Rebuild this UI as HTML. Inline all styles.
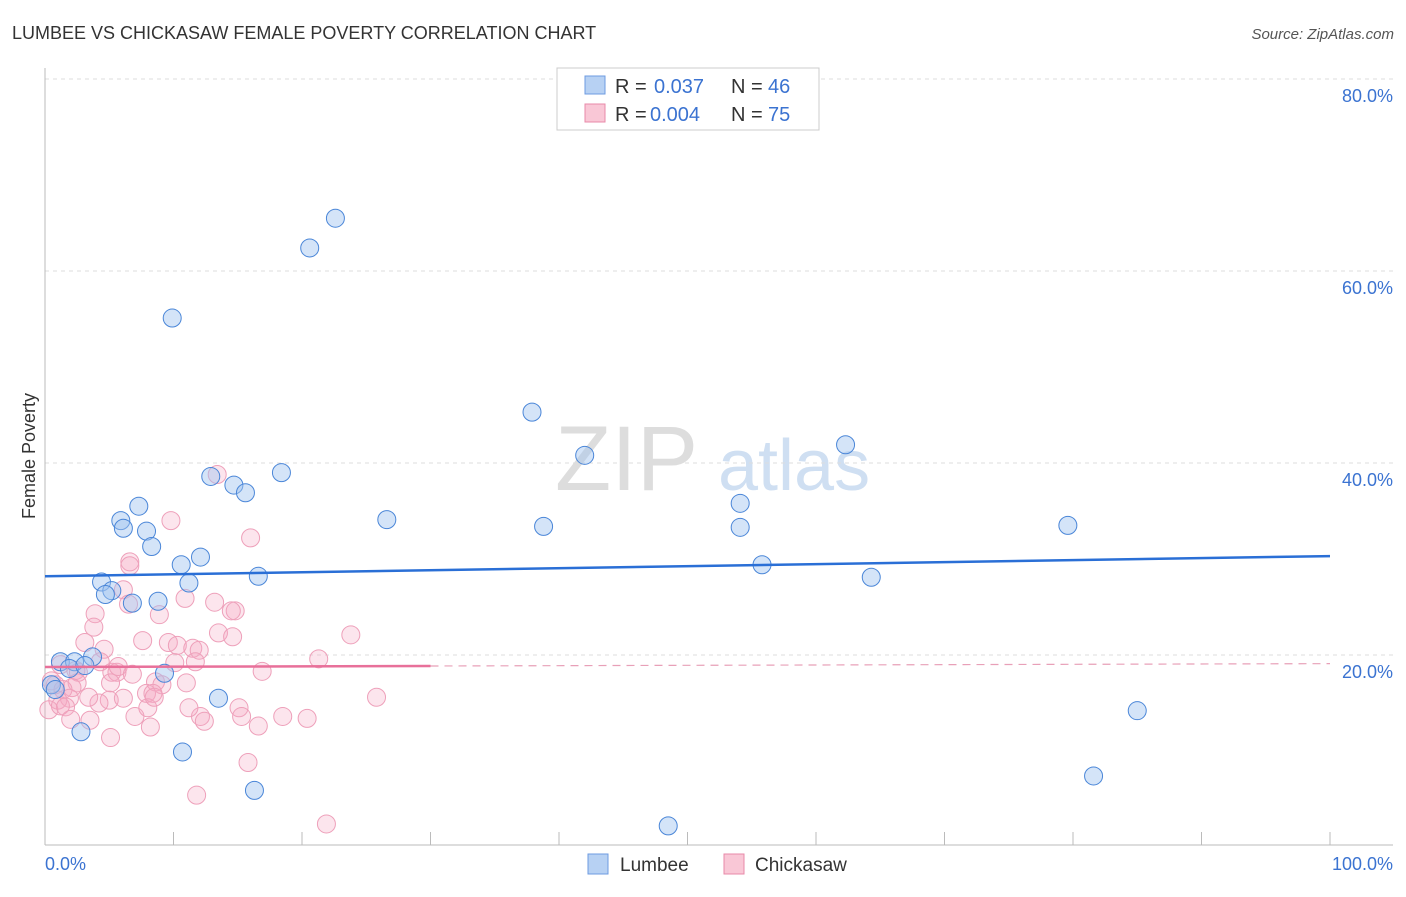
<!DOCTYPE html>
<html><head><meta charset="utf-8"><style>
body{margin:0;background:#fff;font-family:"Liberation Sans",sans-serif;}
svg text{font-family:"Liberation Sans",sans-serif;}
</style></head><body>
<svg id="c" width="1406" height="892">
<text x="12" y="39" font-size="18" fill="#333">LUMBEE VS CHICKASAW FEMALE POVERTY CORRELATION CHART</text>
<text x="1394" y="39" font-size="15" fill="#555" font-style="italic" text-anchor="end">Source: ZipAtlas.com</text>
<text x="35" y="456" font-size="18" fill="#333" text-anchor="middle" transform="rotate(-90 35 456)">Female Poverty</text>
<g><text x="555" y="490" font-size="92" fill="#ddd" font-family="Liberation Serif">ZIP</text><text x="718" y="490" font-size="72" fill="#cfdff2">atlas</text></g>
<g id="grid"></g><g id="marks"></g>
<g>
<rect x="557" y="68" width="262" height="62" fill="#fff" stroke="#ccc"/>
<rect x="585" y="76" width="20" height="18" fill="#b7d1f3" stroke="#6e9be0"/>
<text x="615" y="93" font-size="20" fill="#333">R =</text><text x="654" y="93" font-size="20" fill="#3b73d1">0.037</text>
<text x="731" y="93" font-size="20" fill="#333">N =</text><text x="768" y="93" font-size="20" fill="#3b73d1">46</text>
<rect x="585" y="104" width="20" height="18" fill="#f9c7d6" stroke="#e88aa8"/>
<text x="615" y="121" font-size="20" fill="#333">R =</text><text x="650" y="121" font-size="20" fill="#3b73d1">0.004</text>
<text x="731" y="121" font-size="20" fill="#333">N =</text><text x="768" y="121" font-size="20" fill="#3b73d1">75</text>
</g>
<g>
<rect x="588" y="854" width="20" height="20" fill="#b7d1f3" stroke="#6e9be0"/>
<text x="620" y="871" font-size="19" fill="#333">Lumbee</text>
<rect x="724" y="854" width="20" height="20" fill="#f9c7d6" stroke="#e88aa8"/>
<text x="755" y="871" font-size="19" fill="#333">Chickasaw</text>
</g>
</svg>
<script>
const yTicks=[20,40,60,80];
const yTickLabels=["20.0%","40.0%","60.0%","80.0%"];
const lumbeeX=[22.6,20.6,9.9,37.9,42.0,62.3,18.4,12.9,14.7,15.6,7.3,5.9,6.1,7.9,26.6,38.8,54.1,54.1,79.6,8.3,10.6,12.1,55.8,16.6,64.3,11.2,4.4,5.2,4.7,8.8,6.8,3.7,1.2,2.3,1.9,3.1,9.3,0.5,0.8,13.5,2.8,10.7,16.3,48.5,81.6,85.0];
const lumbeeY=[65.5,62.4,55.1,45.3,40.8,41.9,39.0,38.6,37.7,36.9,35.5,34.0,33.2,32.9,34.1,33.4,35.8,33.3,33.5,31.3,29.4,30.2,29.4,28.2,28.1,27.5,27.6,26.7,26.3,25.6,25.4,19.8,19.3,19.3,18.6,18.9,18.1,16.9,16.4,15.5,12.0,9.9,5.9,2.2,7.4,14.2];
const chickX=[13.4,9.8,16.0,6.6,6.6,6.1,6.5,10.9,13.2,3.9,3.8,8.9,14.8,13.5,23.8,3.1,4.6,7.6,9.6,10.3,11.5,12.0,10.1,11.7,21.3,16.9,8.6,9.1,2.4,2.6,5.2,5.6,1.2,5.7,14.6,5.1,7.9,5.0,8.4,2.5,2.1,0.5,0.8,1.4,1.9,4.2,1.0,3.4,0.3,1.2,1.6,3.5,7.0,6.1,8.0,8.5,8.2,11.0,12.1,12.4,15.1,15.3,16.6,18.5,20.4,25.8,5.1,2.0,15.8,11.8,21.9,11.2,14.5,4.3,6.8];
const chickY=[38.8,34.0,32.2,29.7,29.3,26.8,25.3,25.9,25.5,24.3,22.9,24.2,24.6,22.3,22.1,21.3,20.6,21.5,21.3,21.0,20.7,20.5,19.2,19.3,19.6,18.3,17.2,16.9,18.4,18.2,18.2,18.2,19.0,18.8,21.9,17.1,16.0,15.3,16.0,17.1,16.6,17.3,16.9,16.4,15.5,15.0,15.3,15.6,14.3,14.7,14.6,13.2,13.6,15.5,14.5,15.6,12.5,17.1,13.6,13.1,14.5,13.6,12.6,13.6,13.4,15.6,11.4,13.3,8.8,5.4,2.4,14.5,24.6,19.3,18.0];
const lumbeeTrend=[28.2,30.3];
const chickTrend=[18.75,19.1];
const chickSolidEnd=30;
const X=v=>45+v*12.85, Y=v=>847-v*9.6;
const NS="http://www.w3.org/2000/svg";
function mk(p,t,a){const e=document.createElementNS(NS,t);for(const k in a)e.setAttribute(k,a[k]);p.appendChild(e);return e;}
const g=document.getElementById('grid'), m=document.getElementById('marks');
yTicks.forEach((t,i)=>{
 const l=mk(g,'line',{x1:45,x2:1393,y1:Y(t),y2:Y(t),stroke:'#ddd','stroke-dasharray':'4 4'});
 
 
 const tx=mk(g,'text',{x:1393,y:Y(t)+23,'font-size':18,fill:'#3b73d1','text-anchor':'end'});
 tx.textContent=yTickLabels[i];
 
 
});
const ax=mk(g,'line',{x1:45,x2:45,y1:68,y2:845,stroke:'#bbb'});


const bx=mk(g,'line',{x1:45,x2:1393,y1:845,y2:845,stroke:'#bbb'});


for(let k=0;k<=10;k++){const t=mk(g,'line',{x1:X(k*10),x2:X(k*10),y1:832,y2:845,stroke:'#bbb'});
 
 }
const x0=mk(g,'text',{x:45,y:870,'font-size':18,fill:'#3b73d1'});x0.textContent='0.0%';


const x1=mk(g,'text',{x:1393,y:870,'font-size':18,fill:'#3b73d1','text-anchor':'end'});x1.textContent='100.0%';


chickX.forEach((v,i)=>{const c=mk(m,'circle',{cx:X(v),cy:Y(chickY[i]),r:9,fill:'rgba(245,170,195,0.3)',stroke:'#eea0ba','stroke-width':1});
 
 });
lumbeeX.forEach((v,i)=>{const c=mk(m,'circle',{cx:X(v),cy:Y(lumbeeY[i]),r:9,fill:'rgba(160,196,240,0.45)',stroke:'#4a86d8','stroke-width':1});
 
 });
const ct=v=>chickTrend[0]+(chickTrend[1]-chickTrend[0])*v/100;
const p1=mk(m,'line',{x1:X(0),y1:Y(ct(0)),x2:X(chickSolidEnd),y2:Y(ct(chickSolidEnd)),stroke:'#e8709a','stroke-width':2.5});


const p2=mk(m,'line',{x1:X(chickSolidEnd),y1:Y(ct(chickSolidEnd)),x2:X(100),y2:Y(ct(100)),stroke:'#e8a0b8','stroke-width':1.2,'stroke-dasharray':'8 6'});


const b=mk(m,'line',{x1:X(0),y1:Y(lumbeeTrend[0]),x2:X(100),y2:Y(lumbeeTrend[1]),stroke:'#2a6fd6','stroke-width':2.5});


</script>
</body></html>
